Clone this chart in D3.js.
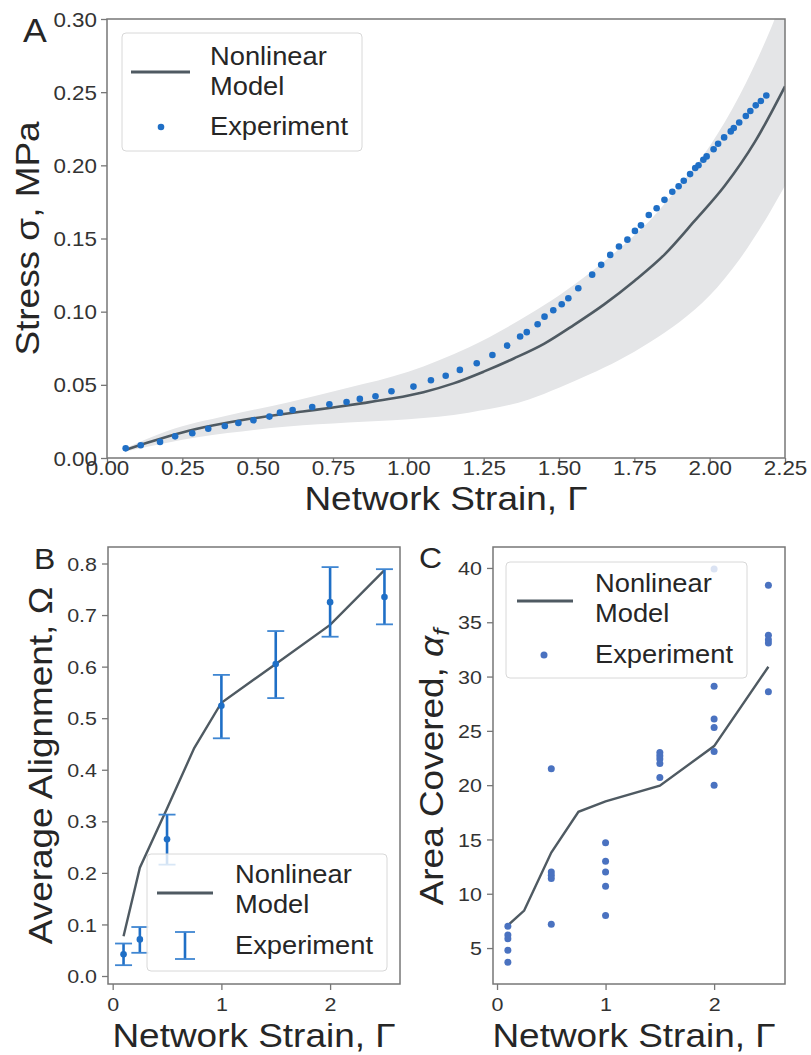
<!DOCTYPE html>
<html><head><meta charset="utf-8">
<script src="https://cdn.jsdelivr.net/npm/d3@7"></script>
<style>body{margin:0;background:#fff}</style>
</head><body>
<svg id="chart" width="811" height="1055"></svg>
<script>
// ---------------- Panel A data ----------------
const aXTicks = [0, 0.25, 0.5, 0.75, 1.0, 1.25, 1.5, 1.75, 2.0, 2.25];
const aYTicks = [0, 0.05, 0.10, 0.15, 0.20, 0.25, 0.30];
// experiment: [strain, stress]
const aExperiment = [
 [0.062,0.0066],[0.112,0.0087],[0.176,0.0110],[0.226,0.0148],[0.283,0.0169],[0.336,0.0200],
 [0.391,0.0219],[0.436,0.0239],[0.486,0.0258],[0.539,0.0283],[0.574,0.0310],[0.616,0.0328],
 [0.681,0.0349],[0.738,0.0367],[0.795,0.0383],[0.839,0.0404],[0.891,0.0422],[0.944,0.0456],
 [1.017,0.0488],[1.075,0.0531],[1.124,0.0562],[1.171,0.0602],[1.227,0.0648],[1.279,0.0704],
 [1.328,0.0768],[1.371,0.0830],[1.393,0.0860],[1.429,0.0914],[1.452,0.0966],[1.481,0.1010],
 [1.509,0.1051],[1.531,0.1092],[1.564,0.1160],[1.610,0.1253],[1.640,0.1320],[1.670,0.1388],
 [1.699,0.1445],[1.727,0.1492],[1.752,0.1552],[1.772,0.1590],[1.798,0.1661],[1.824,0.1707],
 [1.850,0.1764],[1.876,0.1819],[1.897,0.1857],[1.914,0.1895],[1.935,0.1940],[1.952,0.1982],
 [1.963,0.2001],[1.979,0.2038],[1.990,0.2061],[2.013,0.2110],[2.028,0.2148],[2.048,0.2191],
 [2.070,0.2232],[2.080,0.2255],[2.098,0.2293],[2.120,0.2337],[2.135,0.2371],[2.153,0.2410],
 [2.170,0.2440],[2.188,0.2477]
];
const aModelStrain = [0.06,0.15,0.25,0.35,0.45,0.55,0.65,0.75,0.85,0.95,1.05,1.15,1.25,1.35,1.45,1.55,1.65,1.75,1.85,1.95,2.05,2.15,2.25];
const aModelStress = [0.0055,0.0115,0.0175,0.0222,0.0260,0.0290,0.0318,0.0345,0.0375,0.0408,0.0450,0.0510,0.0590,0.0680,0.0780,0.0910,0.1050,0.1210,0.1390,0.1620,0.1860,0.2160,0.2540];
const aBandStrain = [0.06,0.2,0.4,0.6,0.8,1.0,1.2,1.4,1.5,1.6,1.7,1.8,1.9,2.0,2.1,2.2,2.25];
const aBandUpper  = [0.0065,0.0185,0.029,0.038,0.048,0.059,0.0755,0.098,0.111,0.126,0.143,0.162,0.186,0.213,0.248,0.292,0.318];
const aBandLower  = [0.0045,0.0105,0.017,0.0215,0.0242,0.0265,0.031,0.040,0.048,0.057,0.067,0.079,0.093,0.111,0.136,0.168,0.186];

// ---------------- Panel B data ----------------
const bXTicks = [0, 1, 2];
const bYTicks = [0.0, 0.1, 0.2, 0.3, 0.4, 0.5, 0.6, 0.7, 0.8];
const bStrain = [0.1, 0.25, 0.5, 1.0, 1.5, 2.0, 2.5];
const bMean   = [0.042, 0.071, 0.265, 0.524, 0.605, 0.725, 0.735];
const bLow    = [0.021, 0.045, 0.216, 0.461, 0.539, 0.658, 0.682];
const bHigh   = [0.063, 0.095, 0.313, 0.584, 0.669, 0.793, 0.789];
const bModelStrain = [0.1, 0.25, 0.5, 0.75, 1.0, 1.5, 2.0, 2.5];
const bModel       = [0.077, 0.21, 0.325, 0.442, 0.53, 0.605, 0.681, 0.787];

// ---------------- Panel C data ----------------
const cXTicks = [0, 1, 2];
const cYTicks = [5, 10, 15, 20, 25, 30, 35, 40];
const cModelStrain = [0.1, 0.25, 0.5, 0.75, 1.0, 1.5, 2.0, 2.5];
const cModel       = [7.1, 8.45, 13.8, 17.55, 18.5, 19.95, 23.6, 30.9];
const cExpStrain = [0.1, 0.5, 1.0, 1.5, 2.0, 2.5];
const cExpArea = [
 [7.0, 6.2, 5.85, 4.8, 3.7],
 [21.5, 12.0, 11.7, 11.4, 7.2],
 [14.7, 13.0, 12.0, 10.7, 8.0],
 [23.0, 22.7, 22.4, 22.0, 20.7],
 [39.9, 29.1, 26.1, 25.3, 23.1, 20.0],
 [38.4, 33.8, 33.4, 33.1, 28.6]
];

// ---------------- styling ----------------
const FONT = '"Liberation Sans", Arial, Helvetica, sans-serif';
const TXT = "#262626";
const TICKTXT = "#333333";
const FRAME = "#777777";
const MODEL = "#4f5a62";
const BLUE = "#1f6fc6";
const BLUE_C = "#4a72c0";
const BAND = "#e4e5e7";

const svg = d3.select("#chart");
svg.append("rect").attr("width", 811).attr("height", 1055).attr("fill", "#fff");

function addText(parent, str, o) {
  const tr = `translate(${o.x},${o.y})` + (o.rotate ? ` rotate(${o.rotate})` : "") + ` scale(${o.sx || 1},1)`;
  return parent.append("text").attr("transform", tr)
    .attr("font-family", FONT).attr("font-size", o.size)
    .attr("fill", o.fill || TXT).attr("text-anchor", o.anchor || "start")
    .text(str);
}

function axes(g, x, y, box, o) {
  const gx = g.append("g").attr("transform", `translate(0,${box.bottom})`)
    .call(d3.axisBottom(x).tickValues(o.xTicks).tickFormat(o.xFmt).tickSize(o.xTickLen).tickSizeOuter(0));
  gx.select(".domain").remove();
  gx.selectAll(".tick line").attr("stroke", FRAME).attr("stroke-width", 1.3);
  gx.selectAll(".tick text").attr("y", null).attr("dy", null)
    .attr("transform", `translate(0,${o.xOff}) scale(${o.sx},1)`)
    .attr("font-family", FONT).attr("font-size", o.fs).attr("fill", TICKTXT);
  const gy = g.append("g").attr("transform", `translate(${box.left},0)`)
    .call(d3.axisLeft(y).tickValues(o.yTicks).tickFormat(o.yFmt).tickSize(6).tickSizeOuter(0));
  gy.select(".domain").remove();
  gy.selectAll(".tick line").attr("stroke", FRAME).attr("stroke-width", 1.3);
  gy.selectAll(".tick text").attr("x", null).attr("dy", "0.35em")
    .attr("transform", `translate(${-o.yOff},0) scale(${o.sx},1)`)
    .attr("font-family", FONT).attr("font-size", o.fs).attr("fill", TICKTXT);
  g.append("rect").attr("x", box.left).attr("y", box.top)
    .attr("width", box.right - box.left).attr("height", box.bottom - box.top)
    .attr("fill", "none").attr("stroke", FRAME).attr("stroke-width", 1.5);
}

function clip(id, box) {
  svg.append("clipPath").attr("id", id).append("rect")
    .attr("x", box.left).attr("y", box.top)
    .attr("width", box.right - box.left).attr("height", box.bottom - box.top);
}

function legendBox(g, b) {
  g.append("rect").attr("x", b.x0).attr("y", b.y0).attr("width", b.x1 - b.x0).attr("height", b.y1 - b.y0)
    .attr("rx", 4).attr("fill", "#fff").attr("fill-opacity", 0.8)
    .attr("stroke", "#d8d8d8").attr("stroke-width", 1);
}

// ================= Panel A =================
{
  const box = {left: 107, right: 785, top: 19, bottom: 458};
  const x = d3.scaleLinear().domain([0, 2.25]).range([box.left, box.right]);
  const y = d3.scaleLinear().domain([0, 0.30]).range([box.bottom, box.top]);
  clip("clipA", box);
  const g = svg.append("g");
  const pg = g.append("g").attr("clip-path", "url(#clipA)");
  const band = aBandStrain.map((s, i) => ({s, lo: aBandLower[i], hi: aBandUpper[i]}));
  pg.append("path").datum(band).attr("fill", BAND)
    .attr("d", d3.area().x(d => x(d.s)).y0(d => y(d.lo)).y1(d => y(d.hi)).curve(d3.curveMonotoneX));
  const model = aModelStrain.map((s, i) => [s, aModelStress[i]]);
  pg.append("path").datum(model).attr("fill", "none").attr("stroke", MODEL).attr("stroke-width", 2.6)
    .attr("d", d3.line().x(d => x(d[0])).y(d => y(d[1])).curve(d3.curveMonotoneX));
  pg.selectAll("circle.exp").data(aExperiment).join("circle").attr("class", "exp")
    .attr("cx", d => x(d[0])).attr("cy", d => y(d[1])).attr("r", 3.3).attr("fill", BLUE);
  axes(g, x, y, box, {xTicks: aXTicks, yTicks: aYTicks, xFmt: d3.format(".2f"), yFmt: d3.format(".2f"),
    xTickLen: 4, xOff: 17, yOff: 10, fs: 20, sx: 1.12});
  // legend
  legendBox(g, {x0: 122, y0: 33, x1: 362, y1: 151});
  g.append("line").attr("x1", 131).attr("x2", 190).attr("y1", 72).attr("y2", 72)
    .attr("stroke", MODEL).attr("stroke-width", 3);
  g.append("circle").attr("cx", 161).attr("cy", 127).attr("r", 3.3).attr("fill", BLUE);
  addText(g, "Nonlinear", {x: 210, y: 65, size: 26, sx: 1.05});
  addText(g, "Model", {x: 210, y: 95, size: 26, sx: 1.05});
  addText(g, "Experiment", {x: 210, y: 135, size: 26, sx: 1.05});
  // labels
  addText(g, "A", {x: 23, y: 42, size: 34, sx: 1.05});
  addText(g, "Network Strain, Γ", {x: (box.left + box.right) / 2, y: 510, size: 33, sx: 1.12, anchor: "middle"});
  addText(g, "Stress σ, MPa", {x: 39, y: (box.top + box.bottom) / 2, size: 33, sx: 1.12, anchor: "middle", rotate: -90});
}

// ================= Panel B =================
{
  const box = {left: 108, right: 400, top: 547, bottom: 984};
  const x = d3.scaleLinear().domain([-0.043, 2.643]).range([box.left, box.right]);
  const y = d3.scaleLinear().domain([-0.0155, 0.832]).range([box.bottom, box.top]);
  clip("clipB", box);
  const g = svg.append("g");
  const pg = g.append("g").attr("clip-path", "url(#clipB)");
  const model = bModelStrain.map((s, i) => [s, bModel[i]]);
  pg.append("path").datum(model).attr("fill", "none").attr("stroke", MODEL).attr("stroke-width", 2.4)
    .attr("d", d3.line().x(d => x(d[0])).y(d => y(d[1])));
  const eb = bStrain.map((s, i) => ({s, m: bMean[i], lo: bLow[i], hi: bHigh[i]}));
  const ebg = pg.selectAll("g.eb").data(eb).join("g").attr("class", "eb");
  ebg.append("line").attr("x1", d => x(d.s)).attr("x2", d => x(d.s))
    .attr("y1", d => y(d.lo)).attr("y2", d => y(d.hi)).attr("stroke", BLUE).attr("stroke-width", 2.6);
  ebg.append("line").attr("x1", d => x(d.s) - 8.5).attr("x2", d => x(d.s) + 8.5)
    .attr("y1", d => y(d.lo)).attr("y2", d => y(d.lo)).attr("stroke", "#3f86d2").attr("stroke-width", 1.8);
  ebg.append("line").attr("x1", d => x(d.s) - 8.5).attr("x2", d => x(d.s) + 8.5)
    .attr("y1", d => y(d.hi)).attr("y2", d => y(d.hi)).attr("stroke", "#3f86d2").attr("stroke-width", 1.8);
  ebg.append("circle").attr("cx", d => x(d.s)).attr("cy", d => y(d.m)).attr("r", 3.3).attr("fill", BLUE);
  axes(g, x, y, box, {xTicks: bXTicks, yTicks: bYTicks, xFmt: d3.format("d"), yFmt: d3.format(".1f"),
    xTickLen: 6, xOff: 27, yOff: 11, fs: 19, sx: 1.13});
  legendBox(g, {x0: 147, y0: 854, x1: 387, y1: 971});
  g.append("line").attr("x1", 157).attr("x2", 213).attr("y1", 893).attr("y2", 893)
    .attr("stroke", MODEL).attr("stroke-width", 3);
  g.append("line").attr("x1", 185).attr("x2", 185).attr("y1", 932).attr("y2", 959).attr("stroke", BLUE).attr("stroke-width", 2.6);
  g.append("line").attr("x1", 175).attr("x2", 195).attr("y1", 932).attr("y2", 932).attr("stroke", "#3f86d2").attr("stroke-width", 1.8);
  g.append("line").attr("x1", 175).attr("x2", 195).attr("y1", 959).attr("y2", 959).attr("stroke", "#3f86d2").attr("stroke-width", 1.8);
  addText(g, "Nonlinear", {x: 235, y: 883, size: 26, sx: 1.05});
  addText(g, "Model", {x: 235, y: 913, size: 26, sx: 1.05});
  addText(g, "Experiment", {x: 235, y: 954, size: 26, sx: 1.05});
  addText(g, "B", {x: 34, y: 569, size: 29, sx: 1.1});
  addText(g, "Network Strain, Γ", {x: 254, y: 1046.5, size: 33, sx: 1.12, anchor: "middle"});
  addText(g, "Average Alignment, Ω", {x: 52, y: (box.top + box.bottom) / 2, size: 33, sx: 1.12, anchor: "middle", rotate: -90});
}

// ================= Panel C =================
{
  const box = {left: 493, right: 785, top: 547, bottom: 984};
  const x = d3.scaleLinear().domain([-0.037, 2.653]).range([box.left, box.right]);
  const y = d3.scaleLinear().domain([1.69, 41.93]).range([box.bottom, box.top]);
  clip("clipC", box);
  const g = svg.append("g");
  const pg = g.append("g").attr("clip-path", "url(#clipC)");
  const model = cModelStrain.map((s, i) => [s, cModel[i]]);
  pg.append("path").datum(model).attr("fill", "none").attr("stroke", MODEL).attr("stroke-width", 2.4)
    .attr("d", d3.line().x(d => x(d[0])).y(d => y(d[1])));
  const pts = cExpStrain.flatMap((s, i) => cExpArea[i].map(v => [s, v]));
  pg.selectAll("circle.exp").data(pts).join("circle").attr("class", "exp")
    .attr("cx", d => x(d[0])).attr("cy", d => y(d[1])).attr("r", 3.5).attr("fill", BLUE_C);
  axes(g, x, y, box, {xTicks: cXTicks, yTicks: cYTicks, xFmt: d3.format("d"), yFmt: d3.format("d"),
    xTickLen: 6, xOff: 27, yOff: 11, fs: 19, sx: 1.13});
  legendBox(g, {x0: 506, y0: 562, x1: 747, y1: 678});
  g.append("line").attr("x1", 517).attr("x2", 573).attr("y1", 601).attr("y2", 601)
    .attr("stroke", MODEL).attr("stroke-width", 3);
  g.append("circle").attr("cx", 544).attr("cy", 655).attr("r", 3.5).attr("fill", BLUE_C);
  addText(g, "Nonlinear", {x: 595, y: 592, size: 26, sx: 1.05});
  addText(g, "Model", {x: 595, y: 622, size: 26, sx: 1.05});
  addText(g, "Experiment", {x: 595, y: 663, size: 26, sx: 1.05});
  addText(g, "C", {x: 419, y: 568, size: 29, sx: 1.1});
  addText(g, "Network Strain, Γ", {x: 634, y: 1046.5, size: 33, sx: 1.12, anchor: "middle"});
  const yl = addText(g, "Area Covered, ", {x: 443, y: 767, size: 33, sx: 1.12, anchor: "middle", rotate: -90});
  yl.append("tspan").attr("font-style", "italic").text("α");
  yl.append("tspan").attr("font-style", "italic").attr("font-size", 23).attr("dy", 6).text("f");
}
</script>
</body></html>
